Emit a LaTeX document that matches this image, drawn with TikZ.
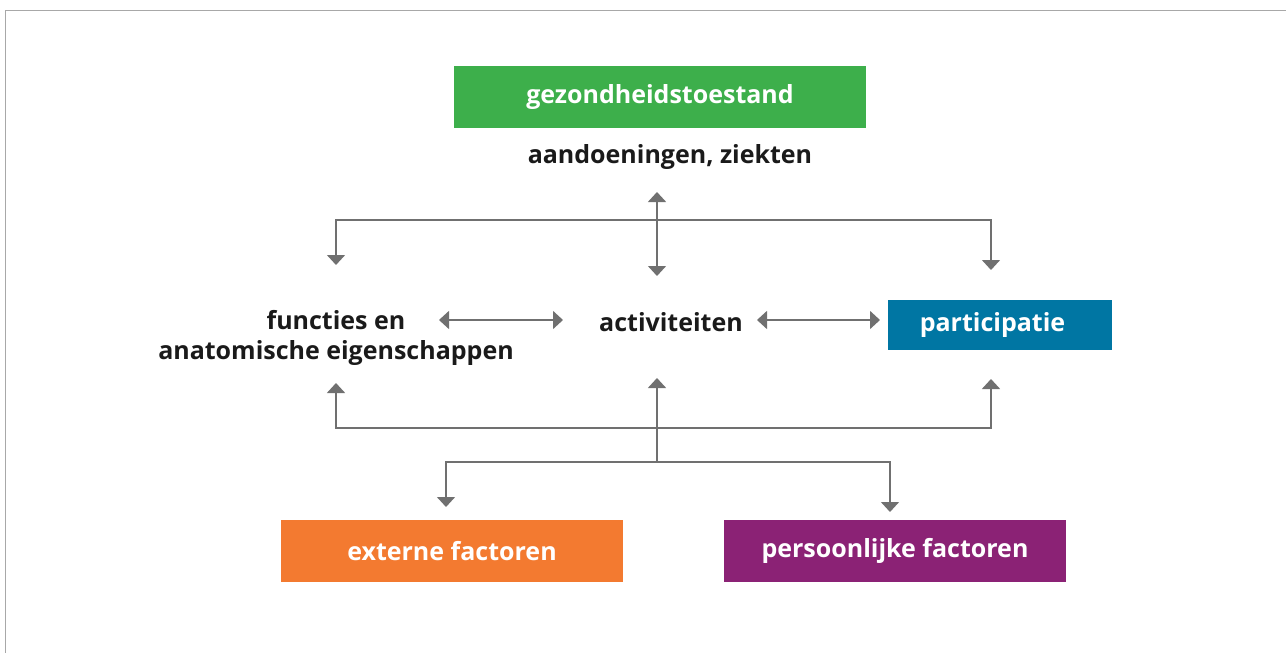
\documentclass[tikz,border=0pt]{standalone}
\usepackage{fontspec}
\setmainfont{Open Sans}
\usetikzlibrary{arrows.meta}
\definecolor{cgreen}{HTML}{3DAF4B}
\definecolor{cblue}{HTML}{0076A3}
\definecolor{corange}{HTML}{F37A30}
\definecolor{cpurple}{HTML}{8B2275}
\definecolor{cline}{HTML}{707070}
\definecolor{cborder}{HTML}{A8A8A8}
\definecolor{ctext}{HTML}{1A1A1A}
\tikzset{
  colbox/.style={fill=#1, text=white, inner sep=0pt, font=\bfseries\fontsize{25}{30}\selectfont},
  lbl/.style={text=ctext, inner sep=0pt, font=\bfseries\fontsize{25}{30}\selectfont},
  conn/.style={draw=cline, line width=1.5pt, {Triangle[width=18pt,length=10pt]}-{Triangle[width=18pt,length=10pt]}},
  conn1/.style={draw=cline, line width=1.5pt, -{Triangle[width=18pt,length=10pt]}}
}
\begin{document}
\begin{tikzpicture}[x=1pt,y=-1pt]
\useasboundingbox (0,0) rectangle (1286,653);
\draw[cborder, line width=1.5pt] (5.5,653) -- (5.5,10.5) -- (1286,10.5);

\node[colbox=cgreen, minimum width=412pt, minimum height=62pt] (g) at (660,97) {gezondheidstoestand};
\node[lbl] (ad) at (670,157) {aandoeningen, ziekten};
\node[lbl, align=center] (fa) at (336,338) {functies en\\anatomische eigenschappen};
\node[lbl] (act) at (671,322) {activiteiten};
\node[colbox=cblue, minimum width=224pt, minimum height=50pt] (p) at (999.5,325) {participatie\hspace*{14pt}};
\node[colbox=corange, minimum width=342pt, minimum height=62pt] (ef) at (452,551) {externe factoren};
\node[colbox=cpurple, minimum width=342pt, minimum height=62pt] (pf) at (895,551) {persoonlijke factoren};

\coordinate (t1) at (657,192);
\coordinate (t2) at (657,276);
\coordinate (lt) at (336,265);
\coordinate (rt) at (991,270);
\coordinate (lb) at (336,383);
\coordinate (rb) at (991,379);
\coordinate (mb) at (657,378);
\coordinate (mj) at (657,462);
\coordinate (eo) at (446,507);
\coordinate (po) at (890,512);
\coordinate (h1) at (439,320);
\coordinate (h2) at (563,320);
\coordinate (h3) at (757,320);
\coordinate (h4) at (880,320);

\draw[conn] (t1) -- (t2);
\draw[conn] (lt) -- (336,220) -- (991,220) -- (rt);
\draw[conn] (lb) -- (336,428) -- (991,428) -- (rb);
\draw[conn1] (mj) -- (mb);
\draw[conn] (eo) -- (446,462) -- (890,462) -- (po);
\draw[conn] (h1) -- (h2);
\draw[conn] (h3) -- (h4);
\end{tikzpicture}
\end{document}
